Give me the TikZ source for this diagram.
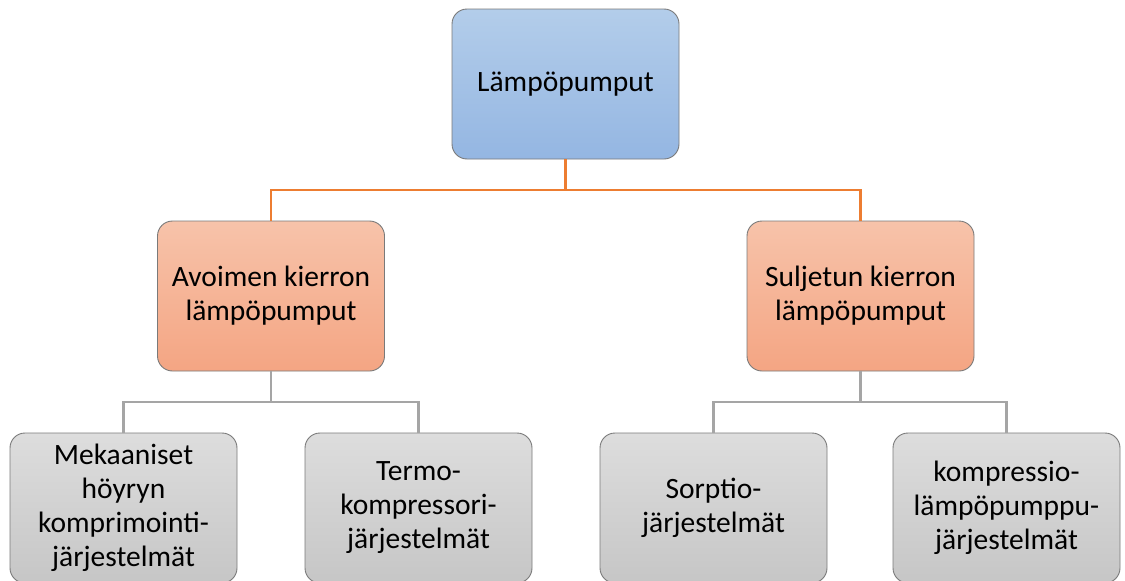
\documentclass[tikz,border=0pt]{standalone}
\usepackage{fontspec}
\setmainfont{Carlito}
\definecolor{blueTop}{HTML}{B3CDEA}
\definecolor{blueBot}{HTML}{94B6E2}
\definecolor{orTop}{HTML}{F7C3AA}
\definecolor{orBot}{HTML}{F4A583}
\definecolor{grTop}{HTML}{DDDDDD}
\definecolor{grBot}{HTML}{C6C6C6}
\definecolor{oline}{HTML}{ED7D31}
\definecolor{gline}{HTML}{A5A5A5}
\definecolor{bord}{HTML}{7A7A7A}
\tikzset{
  box/.style={draw=bord, line width=0.9pt, rounded corners=15pt,
    minimum width=227pt, minimum height=150pt, align=center,
    font=\fontsize{29.5}{34}\selectfont, inner sep=0pt},
  bluebox/.style={box, top color=blueTop, bottom color=blueBot},
  orbox/.style={box, top color=orTop, bottom color=orBot},
  grbox/.style={box, top color=grTop, bottom color=grBot},
  oconn/.style={draw=oline, line width=2.7pt},
  gconn/.style={draw=gline, line width=2.7pt}
}
\begin{document}
\begin{tikzpicture}[x=1pt,y=-1pt]
\useasboundingbox (0,0) rectangle (1125,581);
\clip (0,0) rectangle (1125,581);
\fill[white] (0,0) rectangle (1125,581);
\node[bluebox] (top) at (565.5,84) {Lämpöpumput};
\node[orbox] (m1) at (271,296) {Avoimen kierron\\lämpöpumput};
\node[orbox] (m2) at (860.5,296) {Suljetun kierron\\lämpöpumput};
\node[grbox] (b1) at (123.5,508) {Mekaaniset\\höyryn\\komprimointi-\\järjestelmät};
\node[grbox] (b2) at (418.5,508) {Termo-\\kompressori-\\järjestelmät};
\node[grbox] (b3) at (713.5,508) {Sorptio-\\järjestelmät};
\node[grbox] (b4) at (1006.5,508) {kompressio-\\lämpöpumppu-\\järjestelmät};
\coordinate (bus0) at (565.5,190);
\coordinate (busL) at (271,402);
\coordinate (busR) at (860.5,402);
\draw[oconn] (top.south) -- (bus0);
\draw[oconn] (bus0) -| (m1.north);
\draw[oconn] (bus0) -| (m2.north);
\draw[gconn] (m1.south) -- (busL);
\draw[gconn] (busL) -| (b1.north);
\draw[gconn] (busL) -| (b2.north);
\draw[gconn] (m2.south) -- (busR);
\draw[gconn] (busR) -| (b3.north);
\draw[gconn] (busR) -| (b4.north);
\end{tikzpicture}
\end{document}
